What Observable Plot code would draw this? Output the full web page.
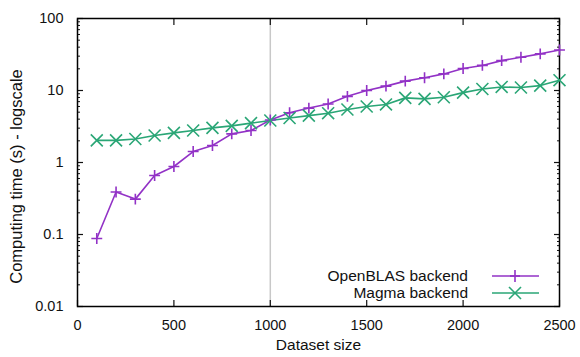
<!DOCTYPE html>
<html>
<head>
<meta charset="utf-8">
<script src="https://cdn.jsdelivr.net/npm/d3@7"></script>
<script src="https://cdn.jsdelivr.net/npm/@observablehq/plot@0.6"></script>
<style>
  html, body { margin: 0; padding: 0; background: #fff; }
  #wrap { position: relative; width: 580px; height: 357px; font-family: "Liberation Sans", Arial, sans-serif; }
  #legend { position: absolute; left: 290px; top: 267px; font-size: 15.5px; color: #111; }
  .lrow { display: flex; align-items: center; height: 17px; justify-content: flex-end; }
  .lrow span { text-align: right; width: 178px; }
  .lrow svg { margin-left: 24px; }
</style>
</head>
<body>
<div id="wrap"></div>
<script>
const sizes = [100,200,300,400,500,600,700,800,900,1000,1100,1200,1300,1400,1500,1600,1700,1800,1900,2000,2100,2200,2300,2400,2500];
const openblas = [0.088,0.39,0.31,0.66,0.88,1.42,1.72,2.5,2.78,3.9,4.9,5.7,6.5,8.3,10.0,11.5,13.5,15.0,17.0,20.2,22.3,26.0,29.0,32.3,36.5];
const magma = [2.03,2.03,2.12,2.37,2.58,2.78,3.03,3.23,3.52,3.83,4.15,4.48,4.84,5.45,6.0,6.4,7.9,7.65,8.05,9.35,10.5,11.2,11.0,11.7,13.9];
const seriesNames = ["OpenBLAS backend", "Magma backend"];
const seriesColors = ["#9232c6", "#2aa676"];
const seriesSymbols = ["plus", "times"];
const xTicks = [0,500,1000,1500,2000,2500];
const yTicks = [0.01,0.1,1,10,100];
const yTickLabels = ["0.01","0.1","1","10","100"];
const markerX = [1000];
const xLabel = "Dataset size";
const yLabel = "Computing time (s) - logscale";

const rows = [];
sizes.forEach((s, i) => {
  rows.push({size: s, time: openblas[i], series: seriesNames[0]});
  rows.push({size: s, time: magma[i], series: seriesNames[1]});
});
const yMinor = [];
for (let e = -2; e < 2; e++) for (let m = 2; m <= 9; m++) yMinor.push(+(m * Math.pow(10, e)).toPrecision(3));

const chart = Plot.plot({
  width: 580,
  height: 357,
  marginLeft: 77,
  marginRight: 21,
  marginTop: 18,
  marginBottom: 51,
  style: {fontFamily: '"Liberation Sans", Arial, sans-serif', fontSize: "14.5px", color: "#111", background: "#fff"},
  x: {domain: [0, 2500]},
  y: {type: "log", domain: [0.01, 100]},
  color: {domain: seriesNames, range: seriesColors},
  symbol: {domain: seriesNames, range: seriesSymbols},
  marks: [
    Plot.ruleX(markerX, {stroke: "#c8c8c8", strokeWidth: 1.5}),
    // tick labels
    Plot.axisX({anchor: "bottom", ticks: xTicks, tickSize: 0, tickPadding: 13, tickFormat: d => String(d), label: null, fontSize: 14.5}),
    Plot.axisY({anchor: "left", ticks: yTicks, tickSize: 0, tickPadding: 14, tickFormat: d => yTickLabels[yTicks.indexOf(d)], label: null, fontSize: 14.5}),
    // inward major ticks
    Plot.axisX({anchor: "bottom", ticks: xTicks, tickSize: 6, insetBottom: 6, tickFormat: () => "", label: null, strokeWidth: 1.2}),
    Plot.axisX({anchor: "top", ticks: xTicks, tickSize: 6, insetTop: 6, tickFormat: () => "", label: null, strokeWidth: 1.2}),
    Plot.axisY({anchor: "left", ticks: yTicks, tickSize: 6, insetLeft: 6, tickFormat: () => "", label: null, strokeWidth: 1.2}),
    Plot.axisY({anchor: "right", ticks: yTicks, tickSize: 6, insetRight: 6, tickFormat: () => "", label: null, strokeWidth: 1.2}),
    // inward minor ticks
    Plot.axisY({anchor: "left", ticks: yMinor, tickSize: 3, insetLeft: 3, tickFormat: () => "", label: null, strokeWidth: 1}),
    Plot.axisY({anchor: "right", ticks: yMinor, tickSize: 3, insetRight: 3, tickFormat: () => "", label: null, strokeWidth: 1}),
    Plot.frame({stroke: "#000", strokeWidth: 1.5}),
    Plot.line(rows, {x: "size", y: "time", stroke: "series", z: "series", strokeWidth: 1.6}),
    Plot.dot(rows, {filter: d => d.series === seriesNames[0], x: "size", y: "time", stroke: "series", symbol: "series", r: 3.6, strokeWidth: 1.6}),
    Plot.dot(rows, {filter: d => d.series === seriesNames[1], x: "size", y: "time", stroke: "series", symbol: "series", r: 5.5, strokeWidth: 1.6}),
    Plot.text([xLabel], {frameAnchor: "bottom", dy: 43, fontSize: 15.5, fill: "#111"}),
    Plot.text([yLabel], {frameAnchor: "left", textAnchor: "middle", rotate: -90, dx: -61, dy: 14, fontSize: 16.5, fill: "#111"})
  ]
});
const wrap = document.getElementById("wrap");
wrap.appendChild(chart);

const legend = document.createElement("div");
legend.id = "legend";
seriesNames.forEach((name, i) => {
  const row = document.createElement("div");
  row.className = "lrow";
  const sym = seriesSymbols[i] === "plus"
    ? `<line x1="23" y1="2" x2="23" y2="14" /><line x1="18" y1="8" x2="28" y2="8" />`
    : `<line x1="17" y1="2" x2="29" y2="14" /><line x1="17" y1="14" x2="29" y2="2" />`;
  row.innerHTML = `<span>${name}</span><svg width="47" height="16" stroke="${seriesColors[i]}" stroke-width="1.6"><line x1="0" y1="8" x2="47" y2="8" />${sym}</svg>`;
  legend.appendChild(row);
});
wrap.appendChild(legend);
</script>
</body>
</html>
